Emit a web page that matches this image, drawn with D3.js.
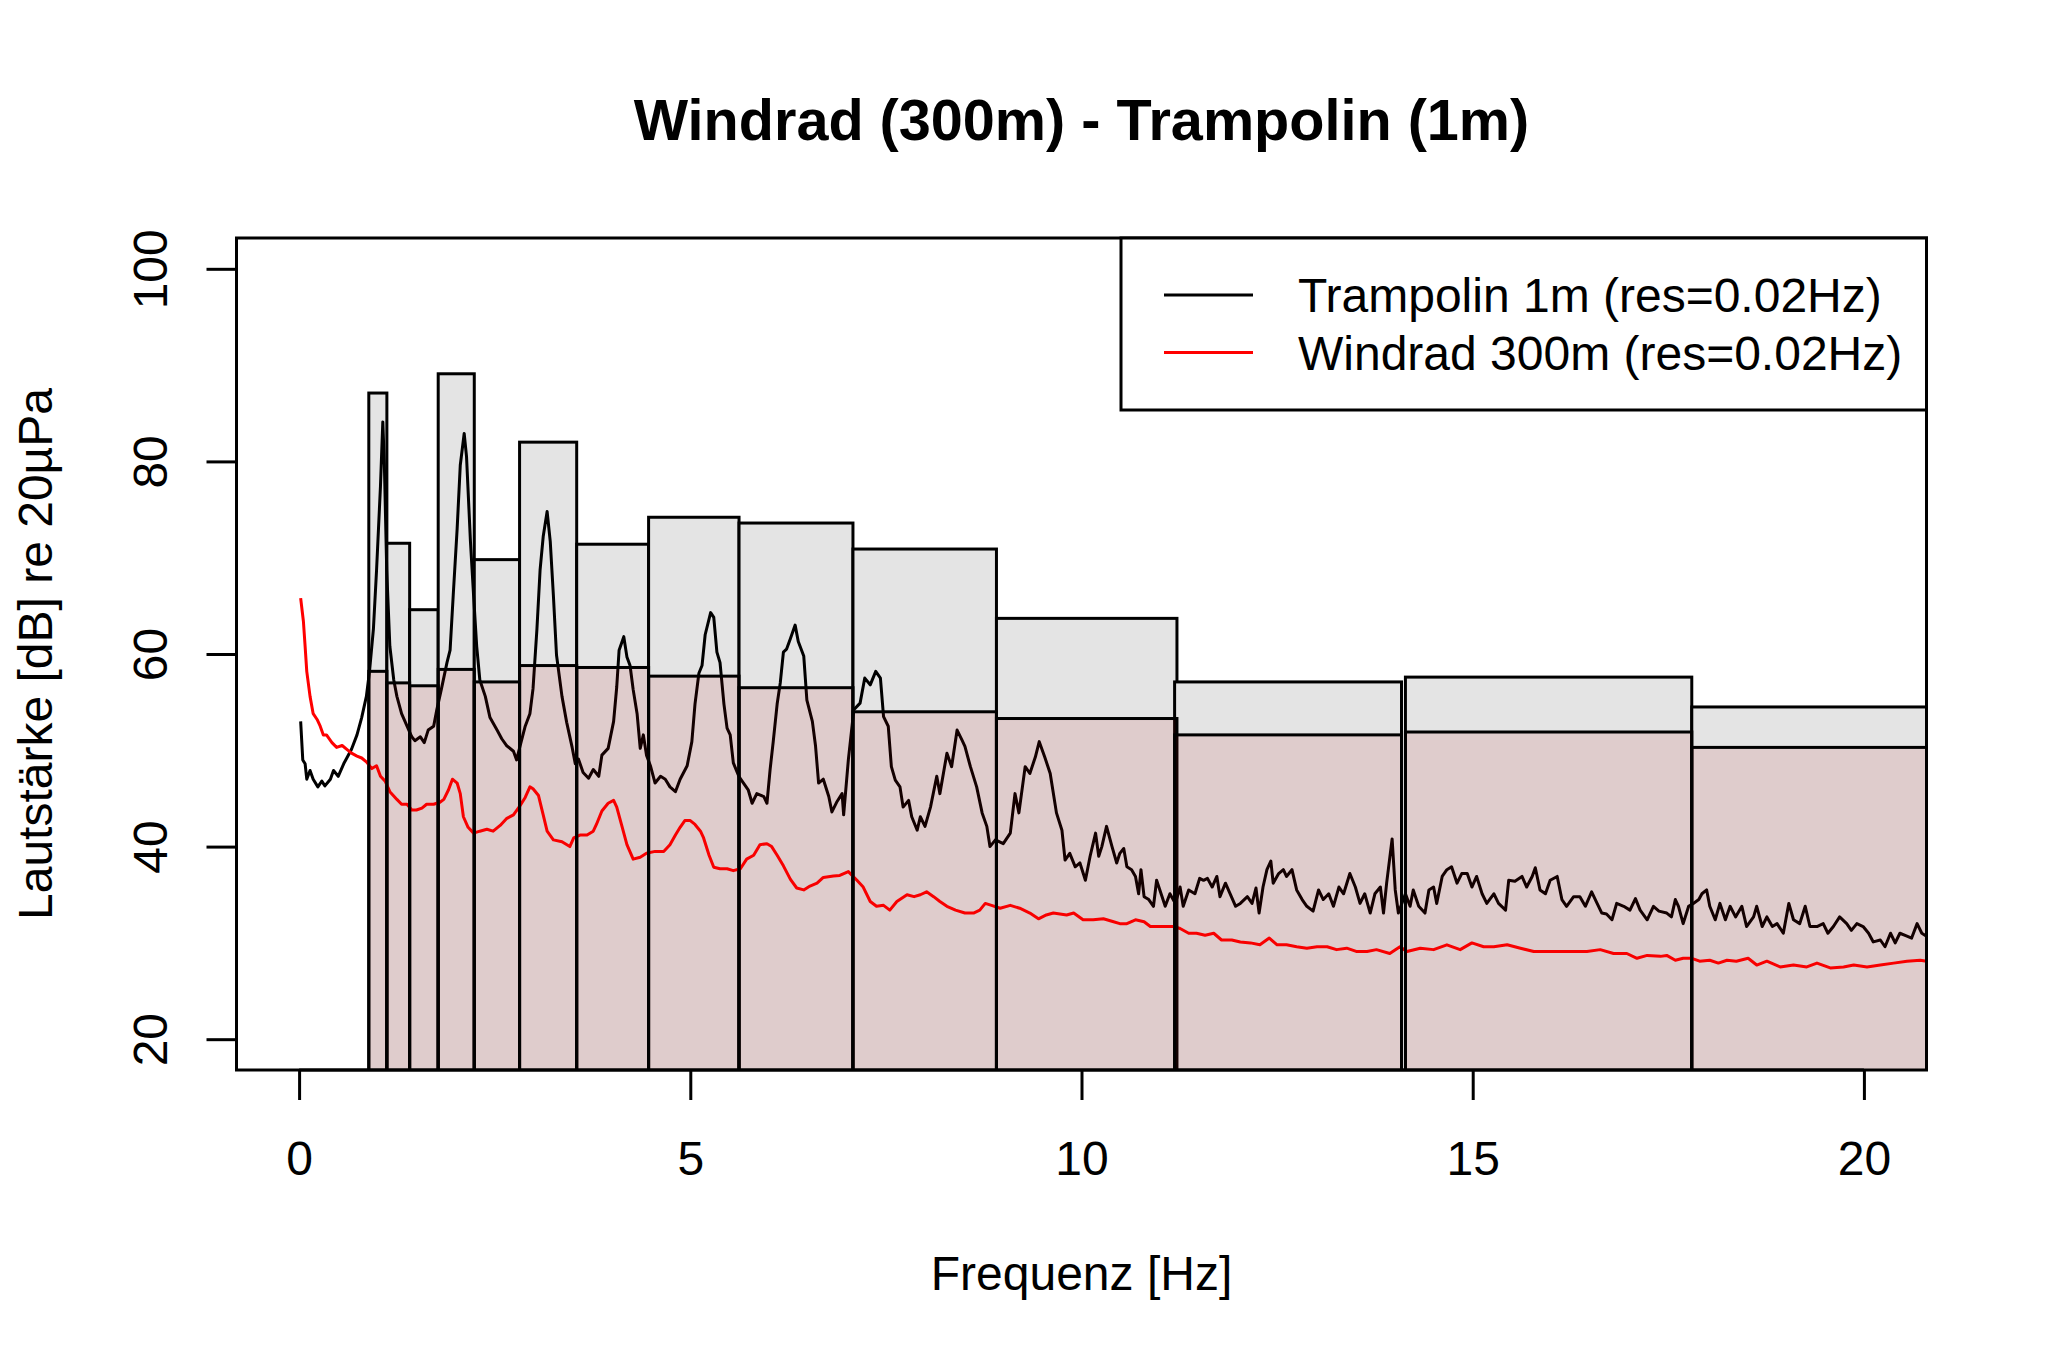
<!DOCTYPE html>
<html><head><meta charset="utf-8">
<script src="https://cdn.jsdelivr.net/npm/d3@7"></script>
<style>body{margin:0;background:#fff}svg{display:block}text{font-family:"Liberation Sans",Arial,Helvetica,sans-serif}</style>
</head><body><svg id="c" width="2048" height="1366"></svg>
<script>
// ---- data ----
const trampFreq = [0.02,0.047,0.077,0.098,0.14,0.18,0.24,0.29,0.33,0.40,0.44,0.50,0.57,0.61,0.67,0.74,0.80,0.86,0.90,0.95,0.99,1.04,1.07,1.09,1.12,1.16,1.21,1.25,1.31,1.38,1.44,1.48,1.55,1.60,1.65,1.72,1.76,1.82,1.89,1.93,1.97,2.02,2.06,2.11,2.14,2.19,2.23,2.27,2.31,2.38,2.44,2.53,2.59,2.65,2.74,2.78,2.82,2.89,2.95,2.99,3.04,3.08,3.12,3.17,3.21,3.25,3.29,3.36,3.42,3.49,3.53,3.57,3.63,3.70,3.76,3.83,3.87,3.95,4.02,4.06,4.09,4.15,4.19,4.23,4.27,4.32,4.36,4.40,4.44,4.49,4.55,4.62,4.68,4.74,4.81,4.87,4.96,5.02,5.06,5.11,5.15,5.19,5.26,5.30,5.34,5.38,5.43,5.47,5.51,5.55,5.62,5.68,5.74,5.79,5.85,5.94,5.98,6.02,6.06,6.11,6.15,6.19,6.23,6.28,6.34,6.38,6.45,6.49,6.56,6.60,6.64,6.70,6.77,6.81,6.87,6.94,6.96,7.02,7.09,7.17,7.23,7.30,7.37,7.43,7.47,7.53,7.57,7.62,7.68,7.72,7.79,7.83,7.90,7.94,8.00,8.07,8.15,8.19,8.28,8.34,8.41,8.47,8.51,8.58,8.66,8.73,8.79,8.83,8.90,9.00,9.09,9.15,9.20,9.28,9.34,9.41,9.46,9.53,9.60,9.68,9.75,9.79,9.85,9.92,9.98,10.05,10.11,10.18,10.22,10.26,10.32,10.39,10.45,10.49,10.54,10.58,10.64,10.69,10.73,10.76,10.80,10.86,10.92,10.96,11.03,11.07,11.13,11.20,11.26,11.30,11.37,11.45,11.51,11.56,11.61,11.67,11.73,11.77,11.84,11.90,11.97,12.03,12.12,12.18,12.23,12.27,12.32,12.37,12.42,12.45,12.52,12.58,12.62,12.69,12.75,12.82,12.88,12.96,13.03,13.09,13.16,13.22,13.29,13.35,13.43,13.50,13.56,13.62,13.69,13.75,13.82,13.86,13.90,13.97,14.01,14.05,14.14,14.20,14.24,14.31,14.39,14.44,14.50,14.54,14.61,14.67,14.73,14.80,14.86,14.93,14.99,15.05,15.12,15.18,15.27,15.33,15.42,15.46,15.54,15.63,15.69,15.76,15.80,15.86,15.93,15.99,16.08,16.14,16.20,16.29,16.37,16.44,16.52,16.59,16.65,16.71,16.78,16.84,16.93,17.01,17.08,17.14,17.23,17.31,17.38,17.48,17.54,17.59,17.63,17.69,17.76,17.82,17.89,17.93,17.99,18.03,18.10,18.16,18.23,18.29,18.36,18.44,18.50,18.59,18.63,18.70,18.76,18.83,18.89,18.97,19.04,19.10,19.18,19.25,19.31,19.40,19.48,19.54,19.61,19.69,19.78,19.84,19.91,19.99,20.06,20.12,20.21,20.27,20.34,20.40,20.46,20.55,20.61,20.68,20.74,20.80];
const trampDb = [53.0,49.0,48.6,47.0,47.9,47.0,46.2,46.8,46.3,47.0,47.9,47.3,48.6,49.2,50.1,51.6,53.4,55.6,58.2,62.6,68.7,77.4,84.1,79.6,68.7,60.8,57.3,55.6,53.8,52.5,51.4,51.0,51.4,50.8,52.1,52.5,54.2,56.4,59.1,60.4,66.1,73.0,79.6,82.9,80.5,71.7,66.1,60.8,57.3,55.6,53.4,52.1,51.2,50.5,49.9,49.0,50.3,52.5,53.8,56.4,62.6,68.7,72.2,74.8,71.7,66.1,59.9,55.6,52.9,50.3,48.6,49.1,47.7,47.1,48.0,47.3,49.5,50.2,53.0,56.6,60.4,61.8,59.7,58.8,56.3,53.8,50.2,51.6,49.5,48.4,46.6,47.3,47.0,46.2,45.7,47.0,48.4,50.9,54.8,58.0,58.8,62.0,64.3,63.8,60.2,59.1,54.8,52.3,51.6,48.7,47.3,46.6,45.9,44.5,45.5,45.2,44.5,48.0,50.9,54.8,57.0,60.2,60.5,61.6,63.0,61.3,59.8,55.2,53.0,50.5,46.6,47.0,45.2,43.6,44.6,45.5,43.3,49.0,54.2,54.9,57.5,56.8,58.2,57.5,53.5,52.5,48.3,46.9,46.2,44.1,44.8,43.1,41.7,43.1,42.1,44.1,47.3,45.5,49.7,48.3,52.1,51.1,50.4,48.3,46.2,43.5,42.1,40.0,40.7,40.3,41.4,45.5,43.5,48.3,47.6,49.3,50.9,49.3,47.6,43.5,41.7,38.6,39.3,37.9,38.3,36.5,39.0,41.4,39.0,40.0,42.1,40.0,38.3,39.3,39.8,37.9,37.6,36.9,35.1,37.6,34.8,34.5,33.8,36.5,34.8,33.8,35.1,34.1,35.8,33.8,35.5,35.1,36.7,36.5,36.7,35.8,36.9,34.8,36.2,35.1,33.8,34.1,34.8,34.1,35.7,33.1,35.8,37.6,38.5,36.2,37.2,37.6,36.9,37.6,35.5,34.5,33.8,33.3,35.5,34.5,35.1,33.8,35.8,35.1,37.2,35.8,34.1,35.1,33.1,35.1,35.8,33.1,36.2,40.8,35.5,33.1,35.1,33.8,35.5,33.8,33.1,35.5,35.8,34.1,36.9,37.6,37.9,36.2,37.2,37.2,35.8,36.9,35.1,34.1,35.1,34.1,33.4,36.5,36.4,36.9,35.8,36.9,37.8,35.5,35.1,36.5,36.9,34.5,33.8,34.8,34.8,33.8,35.3,34.1,33.1,33.0,32.4,34.1,33.8,33.4,34.6,33.4,32.4,33.8,33.3,33.1,32.7,34.5,33.8,32.0,33.8,34.1,34.5,35.1,35.5,33.8,32.4,34.1,32.4,33.8,32.7,33.8,31.7,32.7,33.8,31.7,32.7,31.7,32.0,31.0,34.1,32.4,32.0,33.8,31.7,31.7,32.0,31.0,31.7,32.7,32.0,31.3,32.0,31.7,31.0,30.1,30.3,29.6,31.0,30.0,31.0,30.7,30.5,32.0,31.0,30.7];
const windFreq = [0.02,0.055,0.077,0.098,0.14,0.18,0.23,0.27,0.31,0.35,0.42,0.48,0.55,0.61,0.67,0.74,0.80,0.86,0.93,0.99,1.04,1.10,1.16,1.25,1.31,1.38,1.44,1.50,1.57,1.63,1.72,1.80,1.85,1.91,1.96,2.02,2.06,2.10,2.16,2.23,2.31,2.40,2.48,2.57,2.65,2.74,2.82,2.89,2.95,2.99,3.06,3.12,3.17,3.25,3.36,3.46,3.51,3.59,3.68,3.76,3.80,3.87,3.95,4.02,4.06,4.12,4.19,4.27,4.36,4.44,4.55,4.66,4.74,4.81,4.87,4.93,5.00,5.06,5.13,5.17,5.24,5.30,5.38,5.47,5.55,5.64,5.72,5.81,5.89,5.98,6.04,6.11,6.19,6.28,6.36,6.45,6.53,6.62,6.70,6.83,6.91,7.02,7.13,7.21,7.30,7.38,7.47,7.55,7.64,7.77,7.86,7.94,8.02,8.11,8.19,8.28,8.39,8.51,8.62,8.70,8.77,8.85,8.96,9.09,9.21,9.34,9.45,9.55,9.64,9.81,9.90,10.02,10.15,10.28,10.41,10.49,10.58,10.69,10.80,10.88,11.00,11.18,11.26,11.37,11.47,11.58,11.69,11.79,11.92,12.03,12.16,12.28,12.40,12.50,12.62,12.75,12.88,13.01,13.14,13.26,13.39,13.52,13.65,13.77,13.94,14.07,14.16,14.33,14.50,14.67,14.84,14.99,15.14,15.27,15.44,15.61,15.78,15.95,16.12,16.29,16.46,16.63,16.80,16.97,17.10,17.23,17.40,17.48,17.59,17.69,17.80,17.90,18.03,18.14,18.25,18.37,18.52,18.63,18.76,18.93,19.10,19.27,19.40,19.57,19.74,19.87,20.04,20.21,20.38,20.55,20.72,20.80];
const windDb = [65.8,63.4,60.8,58.2,55.6,53.8,53.2,52.5,51.6,51.6,50.8,50.3,50.5,50.1,49.7,49.4,49.2,48.8,48.1,48.4,47.3,46.8,45.7,44.9,44.4,44.4,43.8,43.8,44.0,44.4,44.4,44.6,44.9,45.9,47.0,46.6,45.5,43.1,42.0,41.4,41.6,41.8,41.6,42.2,42.9,43.3,44.2,45.1,46.2,46.0,45.3,43.3,41.6,40.7,40.5,40.0,40.9,41.2,41.2,41.6,42.3,43.7,44.5,44.8,44.1,42.3,40.2,38.7,38.9,39.3,39.5,39.5,40.2,41.2,42.0,42.7,42.7,42.3,41.6,40.9,39.1,37.85,37.7,37.7,37.5,37.7,38.7,39.1,40.2,40.3,40.0,39.1,38.0,36.6,35.7,35.5,35.9,36.2,36.8,36.95,37.0,37.4,36.5,35.8,34.3,33.8,33.9,33.4,34.3,35.0,34.8,35.0,35.3,34.8,34.3,33.8,33.4,33.1,33.1,33.4,34.1,33.9,33.6,33.9,33.6,33.1,32.5,32.9,33.1,32.9,33.1,32.4,32.4,32.5,32.2,32.0,32.0,32.4,32.2,31.7,31.7,31.7,31.5,31.0,31.0,30.8,31.0,30.3,30.3,30.1,30.0,29.8,30.5,29.8,29.8,29.6,29.45,29.6,29.6,29.3,29.45,29.1,29.1,29.3,28.9,29.6,29.1,29.45,29.3,29.8,29.3,30.0,29.6,29.6,29.8,29.45,29.1,29.1,29.1,29.1,29.1,29.3,28.9,28.9,28.4,28.7,28.6,28.7,28.2,28.4,28.4,28.1,28.2,27.9,28.2,28.1,28.4,27.7,28.1,27.5,27.7,27.5,27.9,27.4,27.5,27.7,27.5,27.7,27.9,28.1,28.2,28.1];
const bandLo = [0.891,1.122,1.413,1.778,2.239,2.818,3.548,4.467,5.623,7.079,8.913,11.19,14.14,17.8];
const bandHi = [1.122,1.413,1.778,2.239,2.818,3.548,4.467,5.623,7.079,8.913,11.22,14.09,17.8,22.39];
const bandTramp = [87.1,71.5,64.6,89.1,69.8,82.0,71.4,74.2,73.6,70.9,63.7,57.1,57.6,54.5];
const bandWind = [58.2,57.0,56.7,58.4,57.1,58.8,58.6,57.7,56.5,54.0,53.3,51.6,51.9,50.3];
const xTicks = [0,5,10,15,20];
const yTicks = [20,40,60,80,100];
const title = "Windrad (300m) - Trampolin (1m)";
const xLabel = "Frequenz [Hz]";
const yLabel = "Lautstärke [dB] re 20µPa";
const seriesNames = ["Trampolin 1m (res=0.02Hz)","Windrad 300m (res=0.02Hz)"];
const seriesColors = ["#000000","#ff0000"];

// ---- drawing ----
const svg = d3.select("#c");
const L = 236.5, R = 1926.5, T = 238, B = 1070;
const x = d3.scaleLinear().domain([-0.8, 20.8]).range([L, R]);
const y = d3.scaleLinear().domain([16.8, 103.2]).range([B, T]);
const LW = 3;

svg.append("rect").attr("width", 2048).attr("height", 1366).attr("fill", "#fff");
svg.append("defs").append("clipPath").attr("id", "clip")
  .append("rect").attr("x", L).attr("y", T).attr("width", R - L).attr("height", B - T);

const plot = svg.append("g").attr("clip-path", "url(#clip)");
const idx = d3.range(bandLo.length);

function bars(vals, fill) {
  plot.append("g").selectAll("rect").data(idx).join("rect")
    .attr("x", i => x(bandLo[i]))
    .attr("width", i => x(bandHi[i]) - x(bandLo[i]))
    .attr("y", i => y(vals[i]))
    .attr("height", i => y(0) - y(vals[i]))
    .attr("fill", fill).attr("stroke", "#000").attr("stroke-width", LW);
}
bars(bandTramp, "#e4e4e4");

const line = d3.line().x(d => x(d[0])).y(d => y(d[1]));
plot.append("path").datum(trampFreq.map((f, i) => [f, trampDb[i]]))
  .attr("d", line).attr("fill", "none").attr("stroke", seriesColors[0])
  .attr("stroke-width", LW).attr("stroke-linejoin", "round");
plot.append("path").datum(windFreq.map((f, i) => [f, windDb[i]]))
  .attr("d", line).attr("fill", "none").attr("stroke", seriesColors[1])
  .attr("stroke-width", LW).attr("stroke-linejoin", "round");

bars(bandWind, "rgba(188,0,0,0.1)");

// box
svg.append("rect").attr("x", L).attr("y", T).attr("width", R - L).attr("height", B - T)
  .attr("fill", "none").attr("stroke", "#000").attr("stroke-width", LW);

// x axis
const gx = svg.append("g").attr("transform", `translate(0,${B})`)
  .call(d3.axisBottom(x).tickValues(xTicks).tickSize(30).tickPadding(41).tickFormat(d3.format("d")));
gx.select(".domain").remove();
gx.append("line").attr("x1", x(xTicks[0])).attr("x2", x(xTicks[xTicks.length-1]))
  .attr("stroke", "#000").attr("stroke-width", LW);
gx.selectAll(".tick line").attr("stroke", "#000").attr("stroke-width", LW);
gx.selectAll(".tick text").attr("fill", "#000").attr("font-size", 48)
  .attr("font-family", '"Liberation Sans",Arial,Helvetica,sans-serif');

// y axis
const gy = svg.append("g").attr("transform", `translate(${L},0)`)
  .call(d3.axisLeft(y).tickValues(yTicks).tickSize(30).tickFormat(d3.format("d")));
gy.select(".domain").remove();
gy.append("line").attr("y1", y(yTicks[0])).attr("y2", y(yTicks[yTicks.length-1]))
  .attr("stroke", "#000").attr("stroke-width", LW);
gy.selectAll(".tick line").attr("stroke", "#000").attr("stroke-width", LW);
gy.selectAll(".tick text").attr("fill", "#000").attr("font-size", 48)
  .attr("font-family", '"Liberation Sans",Arial,Helvetica,sans-serif')
  .attr("x", null).attr("dy", null).attr("text-anchor", "middle")
  .attr("transform", "translate(-70,0) rotate(-90)");

// titles
svg.append("text").attr("x", (L + R) / 2).attr("y", 140).attr("text-anchor", "middle")
  .attr("font-size", 57.6).attr("font-weight", "bold").text(title);
svg.append("text").attr("x", (L + R) / 2).attr("y", 1290).attr("text-anchor", "middle")
  .attr("font-size", 48).text(xLabel);
svg.append("text").attr("transform", `translate(52,${(T + B) / 2}) rotate(-90)`)
  .attr("text-anchor", "middle").attr("font-size", 48).text(yLabel);

// legend
const lg = svg.append("g");
lg.append("rect").attr("x", 1121).attr("y", T).attr("width", R - 1121).attr("height", 410 - T)
  .attr("fill", "#fff").attr("stroke", "#000").attr("stroke-width", LW);
seriesNames.forEach((s, i) => {
  const yy = 295 + i * 57.6;
  lg.append("line").attr("x1", 1164).attr("x2", 1253).attr("y1", yy).attr("y2", yy)
    .attr("stroke", seriesColors[i]).attr("stroke-width", LW);
  lg.append("text").attr("x", 1298).attr("y", yy + 17).attr("font-size", 48).text(s);
});
</script></body></html>
